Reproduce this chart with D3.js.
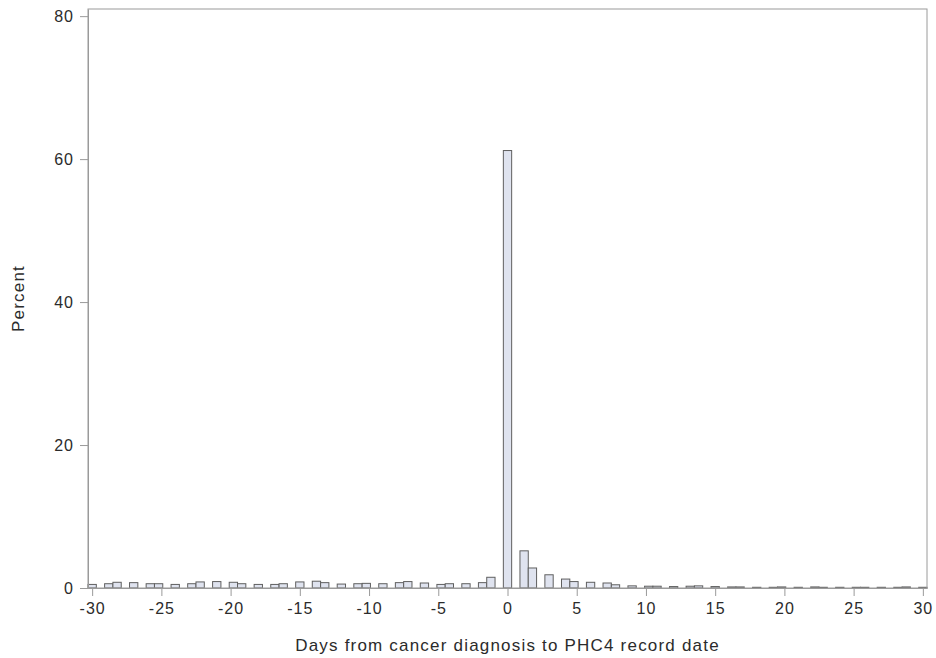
<!DOCTYPE html>
<html>
<head>
<meta charset="utf-8">
<script src="https://cdn.jsdelivr.net/npm/d3@7"></script>
<style>
  html, body { margin: 0; padding: 0; background: #fff; }
  svg { display: block; }
  text { font-family: "Liberation Sans", Arial, sans-serif; fill: #2b2b2b; }
</style>
</head>
<body>
<svg id="chart" width="936" height="658"></svg>
<script>
// Days from cancer diagnosis to PHC4 record date, and share of records (%) per day
const days = d3.range(-30, 31);
const percents = [
  0.5, 0.6, 0.8, 0.75, 0.6, 0.6, 0.5, 0.6, 0.85, 0.9,   // -30 .. -21
  0.8, 0.6, 0.5, 0.5, 0.6, 0.85, 0.95, 0.75, 0.55, 0.6,  // -20 .. -11
  0.65, 0.6, 0.75, 0.9, 0.7, 0.5, 0.6, 0.6, 0.75, 1.5,   // -10 .. -1
  61.2,                                                  // 0
  5.2, 2.8, 1.85, 1.25, 0.9, 0.8, 0.7, 0.45, 0.3, 0.25,  // 1 .. 10
  0.25, 0.2, 0.25, 0.3, 0.2, 0.15, 0.15, 0.1, 0.1, 0.15, // 11 .. 20
  0.1, 0.15, 0.1, 0.1, 0.1, 0.1, 0.1, 0.1, 0.15, 0.1     // 21 .. 30
];
const xTicks = [-30, -25, -20, -15, -10, -5, 0, 5, 10, 15, 20, 25, 30];
const yTicks = [0, 20, 40, 60, 80];
const binWidth = 0.6;

const svg = d3.select("#chart");
const plotLeft = 88, plotRight = 927, plotTop = 9, plotBottom = 588;

const x = d3.scaleLinear().domain([-30.3, 30.3]).range([plotLeft, plotRight]);
const y = d3.scaleLinear().domain([0, 81]).range([plotBottom, plotTop]);

// histogram bins: each day falls into the 0.6-wide bin whose midpoint is nearest
const bars = days.map((d, i) => {
  const mid = Math.round(d / binWidth) * binWidth;
  return { day: d, x0: mid - binWidth / 2, x1: mid + binWidth / 2, value: percents[i] };
});

svg.append("g")
  .selectAll("rect")
  .data(bars)
  .join("rect")
  .attr("x", d => x(d.x0))
  .attr("width", d => x(d.x1) - x(d.x0))
  .attr("y", d => y(d.value))
  .attr("height", d => y(0) - y(d.value))
  .attr("fill", "#dfe3ef")
  .attr("stroke", "#5f5f5f")
  .attr("stroke-width", 1);

// frame
svg.append("rect")
  .attr("x", plotLeft).attr("y", plotTop)
  .attr("width", plotRight - plotLeft).attr("height", plotBottom - plotTop)
  .attr("fill", "none").attr("stroke", "#9a9a9a").attr("stroke-width", 1);

const plain = d => String(d);

// x axis
const xAxis = svg.append("g")
  .attr("transform", `translate(0,${plotBottom})`)
  .call(d3.axisBottom(x).tickValues(xTicks).tickFormat(plain)
    .tickSize(8).tickPadding(7).tickSizeOuter(0));
xAxis.select(".domain").attr("stroke", "#9a9a9a");
xAxis.selectAll(".tick line").attr("stroke", "#9a9a9a");
xAxis.selectAll(".tick text").attr("font-size", 16).attr("fill", "#2b2b2b")
  .attr("letter-spacing", "1px")
  .attr("font-family", "Liberation Sans, Arial, sans-serif");

// y axis
const yAxis = svg.append("g")
  .attr("transform", `translate(${plotLeft},0)`)
  .call(d3.axisLeft(y).tickValues(yTicks).tickFormat(plain)
    .tickSize(8).tickPadding(6).tickSizeOuter(0));
yAxis.select(".domain").attr("stroke", "#9a9a9a");
yAxis.selectAll(".tick line").attr("stroke", "#9a9a9a");
yAxis.selectAll(".tick text").attr("font-size", 16).attr("fill", "#2b2b2b")
  .attr("letter-spacing", "1px")
  .attr("font-family", "Liberation Sans, Arial, sans-serif");

// axis titles
svg.append("text")
  .attr("x", (x(-30) + x(30)) / 2).attr("y", 651)
  .attr("text-anchor", "middle").attr("font-size", 17)
  .attr("letter-spacing", "1.2px")
  .text("Days from cancer diagnosis to PHC4 record date");

svg.append("text")
  .attr("transform", `translate(24,${(plotTop + plotBottom) / 2}) rotate(-90)`)
  .attr("text-anchor", "middle").attr("font-size", 17)
  .attr("letter-spacing", "1.2px")
  .text("Percent");
</script>
</body>
</html>
